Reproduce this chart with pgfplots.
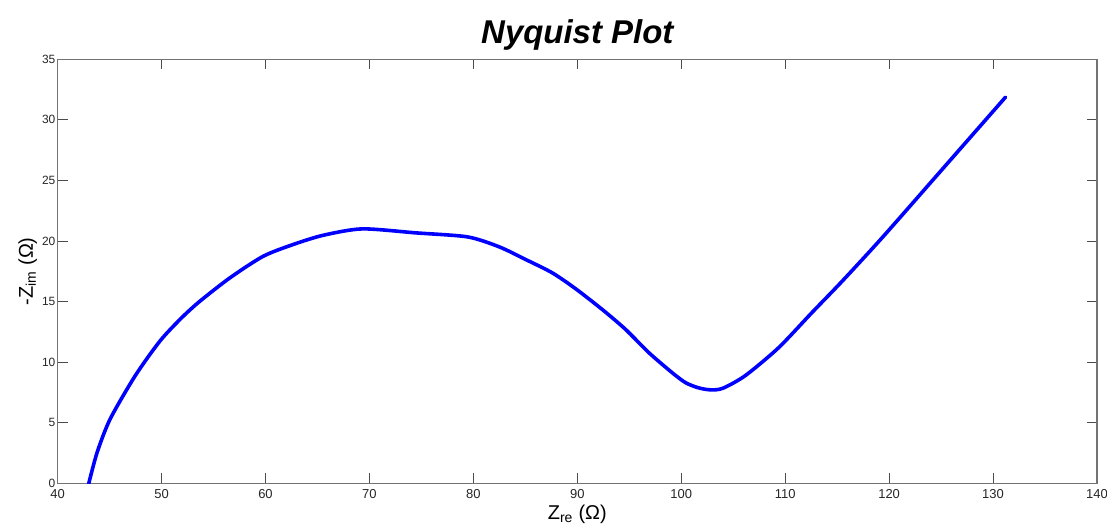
\documentclass[border=0pt]{standalone}
\usepackage{fontspec}
\setmainfont{Liberation Sans}
\usepackage{pgfplots}
\pgfplotsset{compat=1.18}

\begin{document}
\begin{tikzpicture}
% fixed page frame, 1pt = 1px of the reference
\path[use as bounding box] (-57.7pt,-42.7pt) rectangle (1051.3pt,484.3pt);
\begin{axis}[
    at={(0,0)}, anchor=south west,
    scale only axis,
    width=1041.3pt, height=425pt,
    xmin=40, xmax=140, ymin=0, ymax=35,
    xtick={40,50,...,140},
    ytick={0,5,...,35},
    tick align=inside,
    major tick length=10pt,
    axis line style={black!55, line width=1.2pt},
    tick style={black!70, line width=1pt},
    ticklabel style={text=black!85},
    xticklabel style={font=\fontsize{13}{15}\selectfont, inner xsep=1pt, inner ysep=0pt, yshift=-6pt},
    yticklabel style={font=\fontsize{12}{14}\selectfont, inner xsep=2pt, inner ysep=0pt},
    /pgf/number format/assume math mode=true,
    title={\fontsize{33}{38}\selectfont\bfseries\itshape Nyquist Plot},
    title style={at={(axis description cs:0.5,1)}, anchor=base, yshift=10pt},
    xlabel={\fontsize{20}{24}\selectfont Z\textsubscript{re} (Ω)},
    xlabel style={at={(axis description cs:0.5,0)}, anchor=center, yshift=-31pt},
    ylabel={\fontsize{20}{24}\selectfont -Z\textsubscript{im} (Ω)},
    ylabel style={at={(axis description cs:-0.0288,0.5)}, anchor=center, rotate=0},
]
\addplot[color={rgb,255:red,0;green,0;blue,255}, line width=3.6pt, line join=round, line cap=round,
    smooth, tension=0.45] coordinates {
    (43.0,0) (43.8,2.55) (45.05,5.3) (47.45,8.86) (49.85,11.75)
    (51.94,13.67) (53.7,15.04) (56.58,16.96) (59.78,18.74) (62.66,19.71)
    (65.54,20.47) (69.3,21.0) (74.48,20.67) (79.43,20.34) (82.48,19.52)
    (85.04,18.47) (87.6,17.37) (89.84,16.06) (92.4,14.35) (94.64,12.71)
    (96.88,10.79) (99.12,9.14) (100.4,8.32) (101.6,7.9) (102.8,7.72)
    (104.0,7.85) (106.17,8.9) (109.37,11.2) (112.56,14.08) (115.5,16.7)
    (119.45,20.39) (125.3,26.1) (131.2,31.87)
};
\end{axis}
\end{tikzpicture}
\end{document}
